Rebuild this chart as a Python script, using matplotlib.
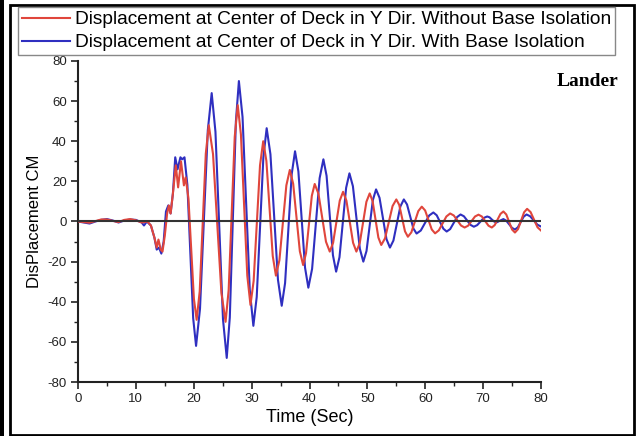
import matplotlib
matplotlib.use("Agg")
import matplotlib.pyplot as plt
from matplotlib.patches import Rectangle
from matplotlib.ticker import MultipleLocator

plt.rcParams['font.family'] = ['Liberation Sans', 'DejaVu Sans']
plt.rcParams['axes.unicode_minus'] = False

# time [sec] and displacement [cm]
# without base isolation (red)
t_red = [0, 1, 2, 3, 4, 5, 6, 7, 8, 9, 10, 11, 12, 12.6, 13.2, 13.6, 13.9, 14.3, 14.6, 15.0,
         15.4, 15.7, 16.0, 16.4, 16.9, 17.3, 17.8, 18.3, 18.6,
         19.08, 19.55, 20.03, 20.5, 21.03, 21.55, 22.08, 22.6, 23.33, 24.05, 24.78, 25.5,
         26.03, 26.55, 27.08, 27.6, 28.15, 28.7, 29.25, 29.8, 30.35, 30.9, 31.45, 32.0,
         32.55, 33.1, 33.65, 34.2, 34.8, 35.4, 36.0, 36.6, 37.18, 37.75, 38.33, 38.9,
         39.4, 39.9, 40.4, 40.9, 41.55, 42.2, 42.85, 43.5, 44.08, 44.65, 45.23, 45.8,
         46.38, 46.95, 47.53, 48.1, 48.68, 49.25, 49.83, 50.4, 50.9, 51.4, 51.9, 52.4,
         53.05, 53.7, 54.35, 55.0, 55.5, 56.0, 56.5, 57.0, 57.6, 58.2, 58.8, 59.4,
         59.98, 60.55, 61.13, 61.7, 62.35, 63.0, 63.65, 64.3, 64.93, 65.55, 66.18, 66.8,
         67.4, 68.0, 68.6, 69.2, 69.78, 70.35, 70.93, 71.5, 72.0, 72.5, 73.0, 73.5,
         74.0, 74.5, 75.0, 75.5, 76.03, 76.55, 77.08, 77.6, 78.2, 78.8, 79.4, 80]
d_red = [0, -0.3, -0.6, 0.2, 1.0, 1.0, 0.3, -0.3, 0.8, 1.2, 0.6, -0.5, 0, -2, -8, -13, -9, -14, -15, -7,
         4, 8, 4, 14, 28, 17, 30, 18, 22,
         11.6, -13.5, -38.6, -49, -34.8, -0.5, 33.8, 48, 33.6, -1, -35.6, -50,
         -34.2, 4, 42.2, 58, 43.4, 8.2, -27.0, -41.6, -29.6, -0.8, 28.0, 40,
         30.2, 6.5, -17.2, -27, -19.3, -0.65, 18.0, 25.7, 18.8, 2, -14.8, -21.7,
         -15.8, -1.5, 12.8, 18.7, 13.8, 1.85, -10.1, -15, -10.6, -0.1, 10.4, 14.8,
         10.4, -0.1, -10.6, -15, -10.8, -0.5, 9.8, 14, 10.2, 1.15, -8.0, -11.7,
         -8.4, -0.35, 7.7, 11, 8.3, 1.7, -4.9, -7.6, -5.4, -0.1, 5.2, 7.4,
         5.5, 0.75, -4.0, -5.9, -4.4, -0.95, 2.5, 4, 3, 0.5, -2, -3,
         -2.1, 0.2, 2.5, 3.4, 2.5, 0.2, -2.1, -3, -1.8, 1, 3.8, 5,
         3.5, -0.25, -4.0, -5.5, -3.8, 0.4, 4.6, 6.3, 4.7, 0.9, -2.9, -4.5]

# with base isolation (blue)
t_blue = [0, 1, 2, 3, 4, 5, 6, 7, 8, 9, 10, 11, 11.4, 11.9, 12.6, 13.2, 13.6, 14.0, 14.4, 14.8,
          15.2, 15.6, 16.0, 16.4, 16.8, 17.2, 17.7, 18.0, 18.4,
          18.9, 19.4, 19.9, 20.4, 21.08, 21.75, 22.43, 23.1, 23.75, 24.4, 25.05, 25.7,
          26.23, 26.75, 27.28, 27.8, 28.43, 29.05, 29.68, 30.3, 30.88, 31.45, 32.03, 32.6,
          33.25, 33.9, 34.55, 35.2, 35.78, 36.35, 36.93, 37.5, 38.08, 38.65, 39.23, 39.8,
          40.45, 41.1, 41.75, 42.4, 42.95, 43.5, 44.05, 44.6, 45.18, 45.75, 46.33, 46.9,
          47.5, 48.1, 48.7, 49.3, 49.85, 50.4, 50.95, 51.5, 52.1, 52.7, 53.3, 53.9,
          54.5, 55.1, 55.7, 56.3, 56.85, 57.4, 57.95, 58.5, 59.23, 59.95, 60.68, 61.4,
          61.98, 62.55, 63.13, 63.7, 64.3, 64.9, 65.5, 66.1, 66.68, 67.25, 67.83, 68.4,
          68.98, 69.55, 70.13, 70.7, 71.1, 71.5, 71.9, 72.3, 72.9, 73.5,
          74.0, 74.5, 75.0, 75.5, 76.0, 76.5, 77.0, 77.5, 78.13, 78.75, 79.38, 80]
d_blue = [0, -0.5, -1, 0, 0.8, 1.2, 0.5, -0.5, 0.5, 1, 0.8, -0.5, -2, 0, -2, -8, -14, -13, -16, -10,
          5, 8, 4, 14, 32, 26, 32, 31, 32,
          18.2, -15, -48.2, -62, -43.5, 1, 45.5, 64, 44.7, -2, -48.7, -68,
          -47.8, 1, 49.8, 70, 52.1, 9, -34.1, -52, -37.6, -2.75, 32.1, 46.5,
          33.5, 2.25, -29.0, -42, -30.7, -3.5, 23.7, 35, 25, 1, -23, -33,
          -23.6, -1, 21.6, 31, 22.8, 3, -16.8, -25, -17.8, -0.5, 16.8, 24,
          17.6, 2, -13.6, -20, -14.7, -2, 10.7, 16, 11.8, 1.5, -8.8, -13,
          -9.5, -1, 7.5, 11, 8.5, 2.5, -3.5, -6, -4.5, -0.75, 3, 4.5,
          3.1, -0.25, -3.6, -5, -3.8, -0.75, 2.2, 3.5, 2.6, 0.45, -1.7, -2.6,
          -1.8, 0, 1.8, 2.5, 2.1, 1, 0, -0.5, 0.4, 1.2,
          0.4, -1.4, -3.2, -4, -2.9, -0.25, 2.4, 3.5, 2.6, 0.5, -1.6, -2.5]

label_red = "Displacement at Center of Deck in Y Dir. Without Base Isolation"
label_blue = "Displacement at Center of Deck in Y Dir. With Base Isolation"

W, H = 636, 436
fig = plt.figure(figsize=(W / 100, H / 100), dpi=100)
ax = fig.add_axes([78 / W, 1 - 382 / H, (541 - 78) / W, (382 - 61) / H])

ax.plot(t_red, d_red, color='#e0463c', lw=1.5, label=label_red, zorder=3,
        solid_joinstyle='round')
ax.plot(t_blue, d_blue, color='#2f2fc0', lw=1.5, label=label_blue, zorder=2,
        solid_joinstyle='round')
ax.axhline(0, color='#333333', lw=1.5, zorder=4)

ax.set_xlim(0, 80)
ax.set_ylim(-80, 80)
ax.xaxis.set_major_locator(MultipleLocator(10))
ax.xaxis.set_minor_locator(MultipleLocator(5))
ax.yaxis.set_major_locator(MultipleLocator(20))
ax.yaxis.set_minor_locator(MultipleLocator(10))
ax.tick_params(which='major', length=5, width=1.2, labelsize=9.5, colors='#222222', pad=3)
ax.tick_params(which='minor', length=3, width=1.0, colors='#222222')
for s in ['top', 'right']:
    ax.spines[s].set_visible(False)
for s in ['left', 'bottom']:
    ax.spines[s].set_linewidth(1.5)
    ax.spines[s].set_color('#222222')

ax.set_xlabel("Time (Sec)", fontsize=13, labelpad=3)
ax.set_ylabel("DisPlacement CM", fontsize=12, labelpad=4)

fig.text(588 / W, 1 - 81 / H, "Lander", fontsize=14, fontweight='bold',
         family='Liberation Serif', ha='center', va='center')

fig.legend(loc='upper left', bbox_to_anchor=(18 / W, 1 - 7 / H), borderaxespad=0,
           fontsize=13.8, handlelength=2.5, handletextpad=0.27, borderpad=0.2,
           labelspacing=0.3, fancybox=False, edgecolor='#888888', framealpha=1)

# outer border of the picture
fig.patches.append(Rectangle((0, 0), 4 / W, 1, transform=fig.transFigure,
                             facecolor='black', edgecolor='none'))
fig.patches.append(Rectangle((10 / W, 1.5 / H), 624 / W, 429 / H, transform=fig.transFigure,
                             facecolor='none', edgecolor='black', lw=2))

fig.savefig("out.png", dpi=100)
